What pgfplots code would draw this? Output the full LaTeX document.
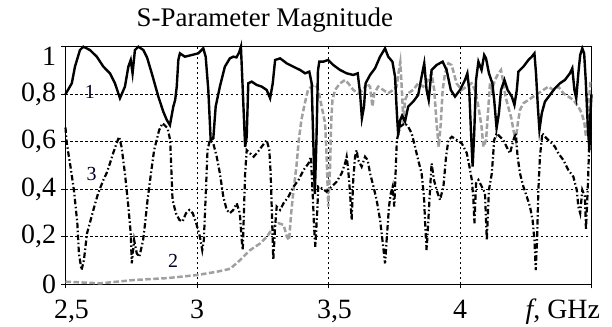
\documentclass[border=0pt]{standalone}
\usepackage{pgfplots}
\pgfplotsset{compat=1.18}
\usepackage{fontspec}
\setmainfont{Liberation Serif}
\definecolor{sgray}{RGB}{160,160,160}
\begin{document}
\begin{tikzpicture}
\begin{axis}[
  width=526bp, height=237.6bp, scale only axis,
  xmin=2.5, xmax=4.5, ymin=0, ymax=1,
  xtick={2.5,3,3.5,4,4.5},
  xticklabels={{\hspace{12bp}2,5},{3},{\hspace{12bp}3,5},{4},{}},
  ytick={0,0.2,0.4,0.6,0.8,1},
  yticklabels={{0},{0,2},{0,4},{0,6},{0,8},{\raisebox{-10bp}[\height][\depth]{1}}},
  tick pos=left, tick align=outside, major tick length=4bp,
  tick style={black, line width=0.8bp},
  axis line style={black, line width=0.9bp},
  grid=major,
  major grid style={black, line width=0.7bp, dash pattern=on 2.5bp off 2.5bp},
  /pgf/number format/assume math mode=true,
  tick label style={font=\fontsize{28}{30}\selectfont},
  xticklabel style={anchor=base, yshift=-30bp},
  yticklabel style={anchor=east, xshift=-2bp},
  title={S-Parameter Magnitude},
  title style={at={(0.379,1)}, anchor=base, yshift=14bp, font=\fontsize{27}{30}\selectfont},
  clip=false,
]
\coordinate (O) at (rel axis cs:0,0);
% curve 2 (gray dashed)
\addplot[sgray, line width=2.5bp, dash pattern=on 5.5bp off 2.5bp] coordinates {
(2.500,0.011)(2.633,0.004)(2.759,0.018)(2.886,0.026)(3.000,0.039)(3.076,0.053)(3.126,0.065)
(3.164,0.102)(3.202,0.144)(3.240,0.172)(3.266,0.200)(3.291,0.243)(3.310,0.257)(3.329,0.250)
(3.342,0.200)(3.350,0.186)(3.358,0.299)(3.367,0.397)(3.378,0.495)(3.387,0.607)(3.397,0.692)
(3.410,0.762)(3.422,0.818)(3.435,0.832)(3.452,0.839)(3.461,0.818)(3.474,0.748)(3.487,0.678)
(3.493,0.537)(3.497,0.397)(3.499,0.327)(3.506,0.495)(3.510,0.678)(3.515,0.776)(3.525,0.818)
(3.544,0.846)(3.563,0.860)(3.575,0.846)(3.594,0.818)(3.613,0.804)(3.632,0.818)(3.645,0.846)
(3.658,0.832)(3.667,0.748)(3.674,0.804)(3.689,0.832)(3.708,0.818)(3.727,0.804)(3.746,0.818)
(3.759,0.832)(3.766,0.888)(3.773,0.935)(3.779,0.818)(3.785,0.678)(3.791,0.776)(3.803,0.804)
(3.822,0.818)(3.841,0.846)(3.860,0.832)(3.879,0.860)(3.892,0.888)(3.902,0.818)(3.911,0.678)
(3.919,0.579)(3.927,0.678)(3.934,0.818)(3.943,0.888)(3.956,0.930)(3.968,0.923)(3.987,0.846)
(4.006,0.818)(4.025,0.832)(4.044,0.846)(4.057,0.818)(4.070,0.748)(4.082,0.663)(4.089,0.579)
(4.099,0.607)(4.108,0.748)(4.114,0.846)(4.121,0.818)(4.133,0.860)(4.146,0.888)(4.156,0.902)
(4.163,0.860)(4.173,0.790)(4.183,0.748)(4.195,0.700)(4.203,0.650)(4.212,0.607)(4.220,0.680)
(4.228,0.734)(4.241,0.762)(4.260,0.776)(4.279,0.790)(4.298,0.804)(4.317,0.818)(4.336,0.832)
(4.355,0.818)(4.374,0.832)(4.393,0.804)(4.412,0.790)(4.431,0.776)(4.450,0.748)(4.463,0.720)
(4.473,0.678)(4.479,0.621)(4.486,0.678)(4.491,0.776)(4.496,0.860)
};
% curve 3 (dash-dot)
\addplot[black, line width=2.2bp, dash pattern=on 5.5bp off 2.5bp on 1.5bp off 2.5bp] coordinates {
(2.500,0.660)(2.504,0.600)(2.519,0.495)(2.532,0.397)(2.545,0.257)(2.551,0.130)(2.561,0.060)
(2.570,0.102)(2.582,0.215)(2.606,0.313)(2.624,0.383)(2.644,0.439)(2.656,0.467)(2.669,0.509)
(2.681,0.551)(2.694,0.593)(2.704,0.621)(2.713,0.579)(2.726,0.467)(2.739,0.327)(2.748,0.215)
(2.752,0.088)(2.761,0.186)(2.771,0.130)(2.781,0.116)(2.795,0.186)(2.802,0.250)(2.812,0.355)
(2.825,0.467)(2.837,0.565)(2.856,0.649)(2.869,0.678)(2.888,0.657)(2.898,0.607)(2.903,0.467)
(2.907,0.355)(2.920,0.299)(2.933,0.271)(2.945,0.264)(2.958,0.299)(2.971,0.313)(2.984,0.299)
(2.997,0.257)(3.011,0.200)(3.020,0.144)(3.026,0.186)(3.034,0.397)(3.040,0.565)(3.049,0.607)
(3.062,0.593)(3.075,0.537)(3.087,0.467)(3.100,0.369)(3.113,0.313)(3.125,0.299)(3.138,0.313)
(3.151,0.341)(3.163,0.299)(3.170,0.186)(3.174,0.144)(3.179,0.327)(3.183,0.467)(3.189,0.565)
(3.202,0.551)(3.215,0.537)(3.227,0.551)(3.246,0.579)(3.265,0.607)(3.275,0.565)(3.280,0.467)
(3.284,0.327)(3.288,0.186)(3.290,0.102)(3.297,0.243)(3.303,0.327)(3.316,0.313)(3.329,0.341)
(3.348,0.369)(3.367,0.411)(3.386,0.439)(3.405,0.481)(3.424,0.509)(3.433,0.537)(3.441,0.355)
(3.445,0.243)(3.450,0.158)(3.458,0.327)(3.461,0.411)(3.474,0.404)(3.493,0.390)(3.512,0.411)
(3.531,0.432)(3.550,0.467)(3.563,0.509)(3.569,0.537)(3.575,0.481)(3.582,0.383)(3.588,0.271)
(3.594,0.439)(3.601,0.537)(3.607,0.565)(3.613,0.523)(3.626,0.495)(3.639,0.537)(3.649,0.523)
(3.658,0.467)(3.671,0.411)(3.683,0.355)(3.696,0.271)(3.702,0.215)(3.708,0.158)(3.715,0.088)
(3.721,0.186)(3.730,0.327)(3.737,0.383)(3.744,0.411)(3.750,0.327)(3.755,0.467)(3.760,0.607)
(3.772,0.663)(3.791,0.678)(3.803,0.663)(3.816,0.636)(3.829,0.579)(3.841,0.523)(3.854,0.467)
(3.863,0.369)(3.868,0.243)(3.873,0.144)(3.879,0.257)(3.886,0.397)(3.892,0.509)(3.901,0.439)
(3.911,0.397)(3.924,0.355)(3.937,0.411)(3.947,0.537)(3.956,0.607)(3.969,0.621)(3.988,0.607)
(4.007,0.593)(4.026,0.551)(4.036,0.495)(4.045,0.439)(4.051,0.355)(4.055,0.257)(4.061,0.425)
(4.070,0.439)(4.083,0.411)(4.095,0.383)(4.102,0.186)(4.110,0.397)(4.121,0.467)(4.130,0.607)
(4.139,0.636)(4.152,0.621)(4.165,0.607)(4.177,0.579)(4.190,0.551)(4.203,0.607)(4.212,0.636)
(4.219,0.537)(4.228,0.467)(4.241,0.411)(4.254,0.369)(4.266,0.327)(4.276,0.271)(4.283,0.186)
(4.288,0.060)(4.293,0.186)(4.298,0.397)(4.304,0.537)(4.313,0.636)(4.323,0.621)(4.336,0.607)
(4.349,0.593)(4.361,0.579)(4.374,0.551)(4.393,0.523)(4.412,0.481)(4.431,0.453)(4.444,0.397)
(4.450,0.327)(4.457,0.299)(4.465,0.397)(4.475,0.369)(4.479,0.229)(4.486,0.411)(4.491,0.579)
(4.496,0.636)(4.500,0.640)
};
% curve 1 (solid)
\addplot[black, line width=2.4bp] coordinates {
(2.500,0.800)(2.524,0.846)(2.536,0.916)(2.555,0.986)(2.568,1.000)(2.593,0.986)(2.619,0.958)
(2.644,0.916)(2.669,0.888)(2.688,0.846)(2.707,0.783)(2.726,0.832)(2.739,0.916)(2.748,0.944)
(2.755,0.888)(2.764,0.986)(2.777,1.000)(2.796,0.986)(2.810,0.955)(2.828,0.888)(2.853,0.790)
(2.872,0.726)(2.885,0.692)(2.897,0.670)(2.910,0.748)(2.917,0.776)(2.923,0.832)(2.929,0.944)
(2.935,0.972)(2.954,0.958)(2.980,0.965)(3.005,0.972)(3.024,0.993)(3.033,0.958)(3.043,0.818)
(3.052,0.607)(3.062,0.614)(3.071,0.748)(3.087,0.832)(3.106,0.916)(3.125,0.951)(3.138,0.958)
(3.150,0.955)(3.160,0.975)(3.167,1.000)(3.174,0.818)(3.183,0.579)(3.189,0.621)(3.195,0.846)
(3.208,0.853)(3.227,0.839)(3.246,0.832)(3.265,0.818)(3.278,0.783)(3.288,0.846)(3.297,0.944)
(3.316,0.951)(3.341,0.930)(3.366,0.916)(3.392,0.902)(3.411,0.888)(3.427,0.895)(3.436,0.846)
(3.442,0.607)(3.448,0.380)(3.454,0.600)(3.460,0.900)(3.465,0.937)(3.480,0.937)(3.499,0.944)
(3.518,0.923)(3.544,0.902)(3.569,0.888)(3.594,0.881)(3.611,0.888)(3.620,0.804)(3.627,0.699)
(3.635,0.748)(3.641,0.846)(3.658,0.881)(3.677,0.909)(3.696,0.958)(3.715,0.993)(3.727,0.958)
(3.743,0.937)(3.753,0.874)(3.760,0.720)(3.765,0.628)(3.773,0.692)(3.780,0.710)(3.791,0.685)
(3.803,0.748)(3.822,0.769)(3.841,0.797)(3.854,0.874)(3.864,0.930)(3.873,0.818)(3.881,0.776)
(3.892,0.902)(3.911,0.923)(3.934,0.937)(3.949,0.902)(3.965,0.818)(3.981,0.790)(4.000,0.818)
(4.019,0.860)(4.028,0.888)(4.035,0.818)(4.042,0.636)(4.048,0.495)(4.054,0.636)(4.061,0.860)
(4.070,0.937)(4.082,0.902)(4.092,0.965)(4.099,0.951)(4.110,0.888)(4.123,0.846)(4.130,0.776)
(4.139,0.657)(4.148,0.720)(4.156,0.818)(4.169,0.860)(4.181,0.818)(4.197,0.790)(4.207,0.755)
(4.216,0.818)(4.222,0.895)(4.241,0.916)(4.260,0.944)(4.273,0.958)(4.283,0.972)(4.289,0.888)
(4.296,0.748)(4.302,0.650)(4.311,0.720)(4.323,0.769)(4.342,0.797)(4.361,0.825)(4.380,0.846)
(4.399,0.860)(4.418,0.888)(4.427,0.909)(4.435,0.818)(4.442,0.783)(4.450,0.888)(4.457,0.965)
(4.465,0.993)(4.472,0.972)(4.478,0.860)(4.486,0.663)(4.492,0.565)(4.496,0.720)(4.500,0.800)
};
\node[font=\fontsize{20}{22}\selectfont, text=black!85!blue] at (axis cs:2.593,0.809) {1};
\node[font=\fontsize{20}{22}\selectfont, text=black!85!blue] at (axis cs:2.599,0.466) {3};
\node[font=\fontsize{20}{22}\selectfont, text=black!85!blue] at (axis cs:2.909,0.100) {2};
\node[anchor=base east, xshift=12bp, yshift=-34bp, font=\fontsize{28}{30}\selectfont] at (rel axis cs:1,0) {\textit{f}, GHz};
\end{axis}
\pgfresetboundingbox
\path ([shift={(-65.5bp,-42.7bp)}]O) rectangle ([shift={(546.5bp,284.3bp)}]O);
\end{tikzpicture}
\end{document}
